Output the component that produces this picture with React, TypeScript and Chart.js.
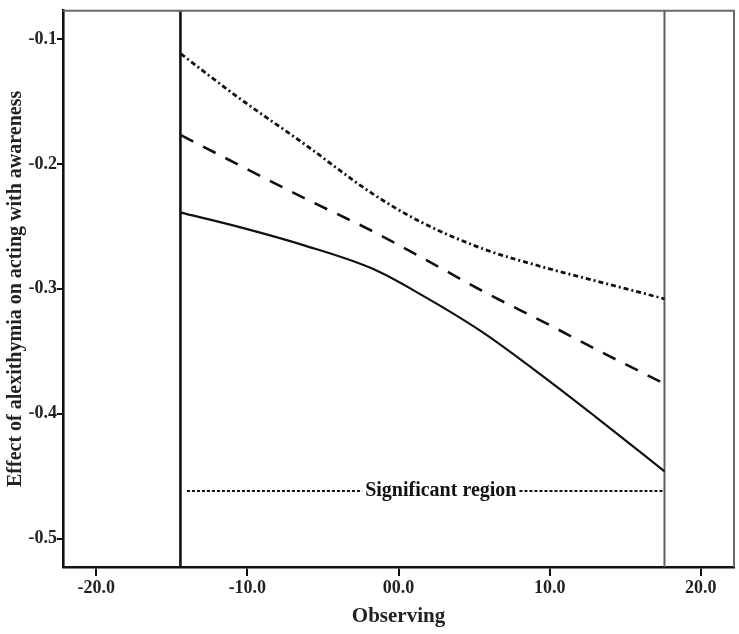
import React, { useEffect, useRef } from "react";
import { Chart, registerables } from "chart.js";

Chart.register(...registerables);

// ---- data ----
const observing = [-14.4, -10.7, -6.3, -1.7, 1.4, 5.6, 10.0, 13.0, 17.6];
const upperBound = [-0.112, -0.146, -0.1835, -0.224, -0.246, -0.268, -0.284, -0.2935, -0.308];
const effect = [-0.177, -0.2, -0.227, -0.254, -0.274, -0.302, -0.329, -0.348, -0.376];
const lowerBound = [-0.239, -0.25, -0.265, -0.284, -0.304, -0.335, -0.374, -0.402, -0.446];

const regionBounds = [-14.43, 17.6];
const significantLevel = -0.4617;
const significantStart = -14.0;
const significantEnd = 17.6;
const significantLabelAt = 2.8;
const significantLabel = "Significant region";

const xTicks = [-20, -10, 0, 10, 20];
const xTickLabels = ["-20.0", "-10.0", "00.0", "10.0", "20.0"];
const yTicks = [-0.5, -0.4, -0.3, -0.2, -0.1];
const yTickLabels = ["-0.5", "-0.4", "-0.3", "-0.2", "-0.1"];

const xMin = -22.2;
const xMax = 22.2;
const yMin = -0.5226;
const yMax = -0.0775;

const xTitle = "Observing";
const yTitle = "Effect of alexithymia on acting with awareness";

const FONT = "'Liberation Serif', 'Times New Roman', serif";

const framePlugin = {
  id: "frame",
  afterDatasetsDraw(chart: any) {
    const { ctx, chartArea, scales } = chart;
    ctx.save();
    ctx.strokeStyle = "#6a6a6a";
    ctx.lineWidth = 2;
    ctx.beginPath();
    ctx.moveTo(chartArea.left, chartArea.top);
    ctx.lineTo(chartArea.right, chartArea.top);
    ctx.lineTo(chartArea.right, chartArea.bottom);
    ctx.stroke();

    // significant region marker
    const xs = scales.x;
    const ys = scales.y;
    const y = ys.getPixelForValue(significantLevel);
    const x1 = xs.getPixelForValue(significantStart);
    const x2 = xs.getPixelForValue(significantEnd);
    const cx = xs.getPixelForValue(significantLabelAt);
    ctx.font = `bold 20px ${FONT}`;
    const w = ctx.measureText(significantLabel).width;
    ctx.fillStyle = "#111";
    ctx.textAlign = "center";
    ctx.textBaseline = "middle";
    ctx.fillText(significantLabel, cx, y);
    ctx.strokeStyle = "#111";
    ctx.lineWidth = 2;
    ctx.setLineDash([3, 2]);
    ctx.beginPath();
    ctx.moveTo(x1, y);
    ctx.lineTo(cx - w / 2 - 3, y);
    ctx.moveTo(cx + w / 2 + 3, y);
    ctx.lineTo(x2, y);
    ctx.stroke();
    ctx.restore();
  },
};

export default function App() {
  const ref = useRef<HTMLCanvasElement | null>(null);

  useEffect(() => {
    if (!ref.current) return;
    const pts = (ys: number[]) => observing.map((x, i) => ({ x, y: ys[i] }));
    const vline = (x: number) => [
      { x, y: yMin },
      { x, y: yMax },
    ];
    const chart = new Chart(ref.current, {
      type: "line",
      data: {
        datasets: [
          {
            label: "upper",
            data: pts(upperBound),
            borderColor: "#111",
            borderWidth: 2.8,
            borderDash: [5, 3, 2, 3],
            pointRadius: 0,
            cubicInterpolationMode: "monotone",
          },
          {
            label: "effect",
            data: pts(effect),
            borderColor: "#111",
            borderWidth: 2.6,
            borderDash: [14, 11],
            pointRadius: 0,
            cubicInterpolationMode: "monotone",
          },
          {
            label: "lower",
            data: pts(lowerBound),
            borderColor: "#111",
            borderWidth: 2.2,
            pointRadius: 0,
            cubicInterpolationMode: "monotone",
          },
          {
            label: "lowerBoundRegion",
            data: vline(regionBounds[0]),
            borderColor: "#111",
            borderWidth: 2.6,
            pointRadius: 0,
          },
          {
            label: "upperBoundRegion",
            data: vline(regionBounds[1]),
            borderColor: "#606060",
            borderWidth: 2,
            pointRadius: 0,
          },
        ],
      },
      options: {
        animation: false,
        responsive: true,
        maintainAspectRatio: false,
        layout: { padding: { top: 7, right: 5, left: 0, bottom: 0 } },
        plugins: {
          legend: { display: false },
          tooltip: { enabled: false },
        },
        scales: {
          x: {
            type: "linear",
            min: xMin,
            max: xMax,
            afterBuildTicks: (scale: any) => {
              scale.ticks = xTicks.map((v) => ({ value: v }));
            },
            afterFit: (scale: any) => {
              scale.height = 67;
            },
            border: { display: true, color: "#111", width: 2.6 },
            grid: {
              drawOnChartArea: false,
              drawTicks: true,
              tickLength: 9,
              color: "#111",
              lineWidth: 2,
            },
            ticks: {
              padding: 2,
              color: "#222",
              font: { family: FONT, size: 18, weight: "bold" },
              maxRotation: 0,
              callback: (v: any) => xTickLabels[xTicks.indexOf(Number(v))],
            },
            title: {
              display: true,
              text: xTitle,
              color: "#222",
              padding: { top: 0, bottom: 5 },
              font: { family: FONT, size: 21, weight: "bold" },
            },
          },
          y: {
            type: "linear",
            min: yMin,
            max: yMax,
            afterBuildTicks: (scale: any) => {
              scale.ticks = yTicks.map((v) => ({ value: v }));
            },
            afterFit: (scale: any) => {
              scale.width = 63;
            },
            border: { display: true, color: "#111", width: 2.6 },
            grid: {
              drawOnChartArea: false,
              drawTicks: true,
              tickLength: 6,
              color: "#111",
              lineWidth: 2,
            },
            ticks: {
              padding: 0,
              color: "#222",
              font: { family: FONT, size: 18, weight: "bold" },
              callback: (v: any) => yTickLabels[yTicks.indexOf(Number(v))],
            },
            title: {
              display: true,
              text: yTitle,
              color: "#222",
              padding: { top: 4, bottom: 0 },
              font: { family: FONT, size: 20, weight: "bold" },
            },
          },
        },
      } as any,
      plugins: [framePlugin],
    });
    return () => chart.destroy();
  }, []);

  return (
    <div
      style={{
        position: "absolute",
        left: 0,
        top: 0,
        width: 739,
        height: 634,
        background: "#fff",
      }}
    >
      <canvas ref={ref} />
    </div>
  );
}
